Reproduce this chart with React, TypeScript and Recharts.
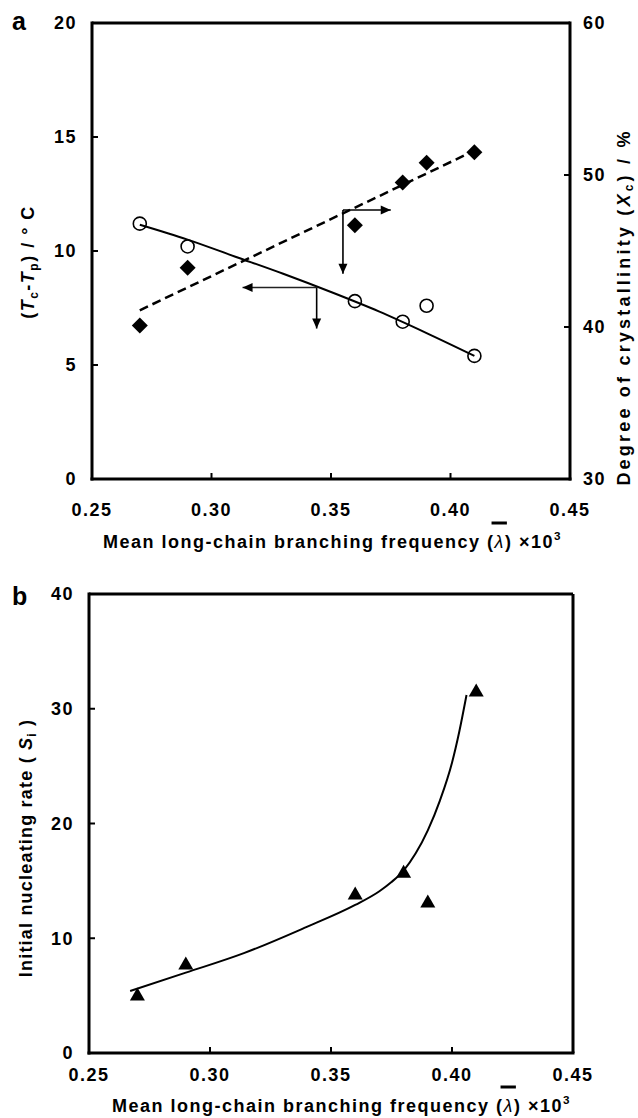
import React from 'react';
import {
  ComposedChart,
  Scatter,
  Line,
  XAxis,
  YAxis,
  ReferenceLine,
  ReferenceDot,
  Label,
} from 'recharts';

// axis ticks
const X_TICKS = [0.25, 0.3, 0.35, 0.4, 0.45];
const LEFT_TICKS_A = [0, 5, 10, 15, 20];
const RIGHT_TICKS_A = [30, 40, 50, 60];
const LEFT_TICKS_B = [0, 10, 20, 30, 40];

// panel a: measured points
const lambdaA = [0.27, 0.29, 0.36, 0.38, 0.39, 0.41];
const deltaT = [11.2, 10.2, 7.8, 6.9, 7.6, 5.4];
const crystallinity = [40.1, 43.9, 46.7, 49.5, 50.8, 51.5];

// panel a: fitted curves
const deltaTFitX = [0.27, 0.29, 0.31, 0.33, 0.35, 0.37, 0.39, 0.41];
const deltaTFitY = [11.15, 10.5, 9.75, 9.0, 8.2, 7.35, 6.4, 5.4];
const crystFitX = [0.27, 0.41];
const crystFitY = [41.1, 51.6];

// panel a: arrows (corner, horizontal tip, vertical tip), left-axis units
const arrowRight = { x: 0.355, y: 11.8, hx: 0.375, vy: 9.0 };
const arrowLeft = { x: 0.344, y: 8.4, hx: 0.313, vy: 6.6 };

// panel b
const lambdaB = [0.27, 0.29, 0.36, 0.38, 0.39, 0.41];
const nucleation = [5.1, 7.8, 13.9, 15.8, 13.2, 31.6];
const nuclFitX = [0.267, 0.29, 0.314, 0.339, 0.36, 0.37, 0.375, 0.38, 0.385, 0.39, 0.395, 0.4, 0.403, 0.406];
const nuclFitY = [5.4, 7.0, 8.7, 10.9, 12.9, 14.1, 14.9, 15.9, 17.4, 19.4, 22.0, 25.3, 28.0, 31.2];

const FONT = '"Liberation Sans", Arial, Helvetica, sans-serif';
const LS = 1.5;
const AXIS = { stroke: '#000', strokeWidth: 3, strokeLinecap: 'square' as const };
const TICK_LINE = { stroke: '#000', strokeWidth: 2 };
const TICK = { fill: '#000', fontSize: 18, fontWeight: 'bold' };

const zip = (xs: number[], ys: number[]) => xs.map((x, i) => ({ x, y: ys[i] }));

function measure(text: string, size: number, weight = 'bold', style = 'normal') {
  const ctx = document.createElement('canvas').getContext('2d');
  if (!ctx) return text.length * size * 0.6;
  ctx.font = `${style} ${weight} ${size}px ${FONT}`;
  return ctx.measureText(text).width + text.length * LS;
}

const openCircle = (p: any) => (
  <circle cx={p.cx} cy={p.cy} r={6.5} fill="none" stroke="#000" strokeWidth={1.6} />
);
const diamond = (p: any) => (
  <path d={`M${p.cx},${p.cy - 8}L${p.cx + 8},${p.cy}L${p.cx},${p.cy + 8}L${p.cx - 8},${p.cy}Z`} fill="#000" />
);
const triangle = (p: any) => (
  <path d={`M${p.cx},${p.cy - 7}L${p.cx + 7.5},${p.cy + 6}L${p.cx - 7.5},${p.cy + 6}Z`} fill="#000" />
);

function arrowHead(dir: 'left' | 'right' | 'down') {
  return (p: any) => {
    const { cx, cy } = p;
    let d = '';
    if (dir === 'right') d = `M${cx},${cy}L${cx - 10},${cy - 4.5}L${cx - 10},${cy + 4.5}Z`;
    if (dir === 'left') d = `M${cx},${cy}L${cx + 10},${cy - 4.5}L${cx + 10},${cy + 4.5}Z`;
    if (dir === 'down') d = `M${cx},${cy}L${cx - 4.5},${cy - 10}L${cx + 4.5},${cy - 10}Z`;
    return <path d={d} fill="#000" />;
  };
}

function XTitle({ x, y, size }: { x: number; y: number; size: number }) {
  const prefix = 'Mean long-chain branching frequency (';
  const lamX = x + measure(prefix, size);
  const lamW = measure('λ', size, 'normal', 'italic');
  return (
    <g>
      <text x={x} y={y} fontSize={size} fontWeight="bold" fill="#000">
        {prefix}
        <tspan fontWeight="normal" fontStyle="italic">λ</tspan>
        {') ×10'}
        <tspan fontSize={size * 0.65} dy={-8}>3</tspan>
      </text>
      <line x1={lamX - 3} x2={lamX + lamW + 2} y1={y - 25} y2={y - 25} stroke="#000" strokeWidth={3} />
    </g>
  );
}

function PanelA() {
  const pts = zip(lambdaA, deltaT);
  const ptsX = zip(lambdaA, crystallinity);
  const fit = zip(deltaTFitX, deltaTFitY);
  const fitX = zip(crystFitX, crystFitY);
  return (
    <ComposedChart width={638} height={570} margin={{ top: 23, right: 0, bottom: 0, left: 0 }}>
      <XAxis
        type="number"
        dataKey="x"
        domain={[0.25, 0.45]}
        ticks={X_TICKS}
        interval={0}
        allowDataOverflow
        tickFormatter={(v: number) => v.toFixed(2)}
        height={91}
        tickSize={-6}
        tickMargin={30}
        axisLine={AXIS}
        tickLine={TICK_LINE}
        tick={TICK}
      >
        <Label content={(p: any) => <XTitle x={p.viewBox.x + 11} y={p.viewBox.y + 69} size={18} />} />
      </XAxis>
      <YAxis
        yAxisId="l"
        domain={[0, 20]}
        ticks={LEFT_TICKS_A}
        interval={0}
        width={92}
        tickSize={-6}
        tickMargin={21}
        axisLine={AXIS}
        tickLine={TICK_LINE}
        tick={TICK}
      >
        <Label
          content={(p: any) => {
            const bx = p.viewBox.x + 34;
            const cy = p.viewBox.y + 239;
            return (
              <g>
                <text x={12} y={30} fontSize={25} fontWeight="bold" fill="#000">a</text>
                <text transform={`rotate(-90 ${bx} ${cy})`} x={bx} y={cy} textAnchor="middle" fontSize={18} fontWeight="bold" fill="#000">
                  (<tspan fontStyle="italic">T</tspan>
                  <tspan fontSize={12} dy={4}>c</tspan>
                  <tspan dy={-4}>-</tspan>
                  <tspan fontStyle="italic">T</tspan>
                  <tspan fontSize={12} dy={4}>p</tspan>
                  <tspan dy={-4}>) / ° C</tspan>
                </text>
              </g>
            );
          }}
        />
      </YAxis>
      <YAxis
        yAxisId="r"
        orientation="right"
        domain={[30, 60]}
        ticks={RIGHT_TICKS_A}
        interval={0}
        width={68}
        tickSize={-6}
        tickMargin={19}
        axisLine={AXIS}
        tickLine={TICK_LINE}
        tick={TICK}
      >
        <Label
          content={(p: any) => {
            const bx = p.viewBox.x + 60;
            const cy = p.viewBox.y + 284;
            return (
              <text transform={`rotate(-90 ${bx} ${cy})`} x={bx} y={cy} textAnchor="middle" fontSize={18} fontWeight="bold" fill="#000" letterSpacing={3.2}>
                Degree of crystallinity (<tspan fontStyle="italic">X</tspan>
                <tspan fontSize={12} dy={3}>c</tspan>
                <tspan dy={-3}>) / %</tspan>
              </text>
            );
          }}
        />
      </YAxis>
      <ReferenceLine yAxisId="l" y={20} stroke="#000" strokeWidth={3} />

      <Line data={fitX} dataKey="y" yAxisId="r" type="linear" stroke="#000" strokeWidth={2.5} strokeDasharray="9 5" dot={false} isAnimationActive={false} />
      <Line data={fit} dataKey="y" yAxisId="l" type="monotone" stroke="#000" strokeWidth={2} dot={false} isAnimationActive={false} />
      <Scatter data={ptsX} dataKey="y" yAxisId="r" shape={diamond} isAnimationActive={false} />
      <Scatter data={pts} dataKey="y" yAxisId="l" shape={openCircle} isAnimationActive={false} />

      {/* arrow toward right axis */}
      <ReferenceLine yAxisId="l" segment={[{ x: arrowRight.x, y: arrowRight.y }, { x: arrowRight.hx, y: arrowRight.y }]} stroke="#000" strokeWidth={1.4} />
      <ReferenceLine yAxisId="l" segment={[{ x: arrowRight.x, y: arrowRight.y }, { x: arrowRight.x, y: arrowRight.vy }]} stroke="#000" strokeWidth={1.6} />
      <ReferenceDot yAxisId="l" x={arrowRight.hx} y={arrowRight.y} shape={arrowHead('right')} />
      <ReferenceDot yAxisId="l" x={arrowRight.x} y={arrowRight.vy} shape={arrowHead('down')} />
      {/* arrow toward left axis */}
      <ReferenceLine yAxisId="l" segment={[{ x: arrowLeft.x, y: arrowLeft.y }, { x: arrowLeft.hx, y: arrowLeft.y }]} stroke="#222" strokeWidth={1.4} />
      <ReferenceLine yAxisId="l" segment={[{ x: arrowLeft.x, y: arrowLeft.y }, { x: arrowLeft.x, y: arrowLeft.vy }]} stroke="#000" strokeWidth={1.6} />
      <ReferenceDot yAxisId="l" x={arrowLeft.hx} y={arrowLeft.y} shape={arrowHead('left')} />
      <ReferenceDot yAxisId="l" x={arrowLeft.x} y={arrowLeft.vy} shape={arrowHead('down')} />
    </ComposedChart>
  );
}

function PanelB() {
  const pts = zip(lambdaB, nucleation);
  const fit = zip(nuclFitX, nuclFitY);
  return (
    <ComposedChart width={638} height={558} margin={{ top: 34, right: 65, bottom: 0, left: 0 }}>
      <XAxis
        type="number"
        dataKey="x"
        domain={[0.25, 0.45]}
        ticks={X_TICKS}
        interval={0}
        allowDataOverflow
        tickFormatter={(v: number) => v.toFixed(2)}
        height={65}
        tickSize={-6}
        tickMargin={21}
        axisLine={AXIS}
        tickLine={TICK_LINE}
        tick={TICK}
      >
        <Label content={(p: any) => <XTitle x={p.viewBox.x + 23} y={p.viewBox.y + 59} size={18} />} />
      </XAxis>
      <YAxis
        yAxisId="l"
        domain={[0, 40]}
        ticks={LEFT_TICKS_B}
        interval={0}
        width={89}
        tickSize={-6}
        tickMargin={21}
        axisLine={AXIS}
        tickLine={TICK_LINE}
        tick={TICK}
      >
        <Label
          content={(p: any) => {
            const bx = p.viewBox.x + 32;
            const cy = p.viewBox.y + 254;
            return (
              <g>
                <text x={12} y={45} fontSize={25} fontWeight="bold" fill="#000">b</text>
                <text transform={`rotate(-90 ${bx} ${cy})`} x={bx} y={cy} textAnchor="middle" fontSize={18} fontWeight="bold" fill="#000" letterSpacing={1.2}>
                  Initial nucleating rate ( <tspan fontStyle="italic">S</tspan>
                  <tspan fontSize={12} dy={4}>i</tspan>
                  <tspan dy={-4}> )</tspan>
                </text>
              </g>
            );
          }}
        />
      </YAxis>
      <ReferenceLine yAxisId="l" y={40} stroke="#000" strokeWidth={3} />
      <ReferenceLine yAxisId="l" x={0.45} stroke="#000" strokeWidth={3} />

      <Line data={fit} dataKey="y" yAxisId="l" type="monotone" stroke="#000" strokeWidth={2} dot={false} isAnimationActive={false} />
      <Scatter data={pts} dataKey="y" yAxisId="l" shape={triangle} isAnimationActive={false} />
    </ComposedChart>
  );
}

export default function App() {
  return (
    <div
      style={{
        position: 'absolute',
        left: 0,
        top: 0,
        width: 638,
        height: 1118,
        background: '#fff',
        fontFamily: FONT,
        fontWeight: 'bold',
        letterSpacing: `${LS}px`,
      }}
    >
      <div style={{ position: 'absolute', left: 0, top: 0 }}>
        <PanelA />
      </div>
      <div style={{ position: 'absolute', left: 0, top: 560 }}>
        <PanelB />
      </div>
    </div>
  );
}
